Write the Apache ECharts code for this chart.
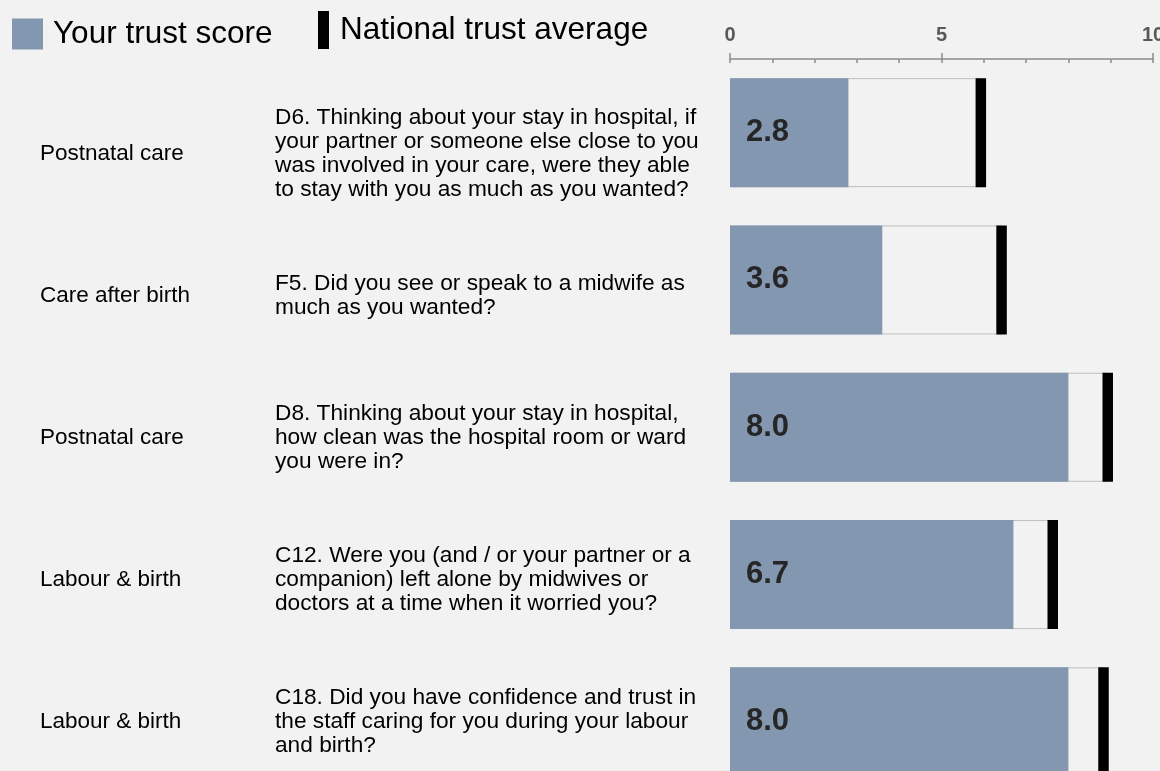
<!DOCTYPE html>
<html>
<head>
<meta charset="utf-8">
<script src="https://cdn.jsdelivr.net/npm/echarts@6/dist/echarts.min.js"></script>
<style>
  html, body { margin: 0; padding: 0; background: #f2f2f2; }
  #chart { width: 1160px; height: 771px; }
</style>
</head>
<body>
<div id="chart"></div>
<script>
// survey rows, top to bottom
const topics = ['Postnatal care', 'Care after birth', 'Postnatal care', 'Labour & birth', 'Labour & birth']
const questions = [
  'D6. Thinking about your stay in hospital, if\nyour partner or someone else close to you\nwas involved in your care, were they able\nto stay with you as much as you wanted?',
  'F5. Did you see or speak to a midwife as\nmuch as you wanted?',
  'D8. Thinking about your stay in hospital,\nhow clean was the hospital room or ward\nyou were in?',
  'C12. Were you (and / or your partner or a\ncompanion) left alone by midwives or\ndoctors at a time when it worried you?',
  'C18. Did you have confidence and trust in\nthe staff caring for you during your labour\nand birth?'
]
const trustScores = [2.8, 3.6, 8.0, 6.7, 8.0]
const nationalAverages = [5.93, 6.42, 8.93, 7.63, 8.83]
const axisTicks = [0, 5, 10]

const font = '"Liberation Sans", Arial, sans-serif'
const chart = echarts.init(document.getElementById('chart'))

const option = {
  backgroundColor: '#f2f2f2',
  animation: false,
  textStyle: { fontFamily: font },
  legend: [
    {
      data: ['Your trust score'],
      left: 12,
      top: 18,
      padding: 0,
      icon: 'rect',
      itemWidth: 31,
      itemHeight: 31,
      selectedMode: false,
      textStyle: { fontSize: 31.5, color: '#000', fontFamily: font, padding: [0, 0, 0, 5] }
    },
    {
      data: ['National trust average'],
      left: 318,
      top: 11,
      padding: 0,
      icon: 'rect',
      itemWidth: 11,
      itemHeight: 38,
      selectedMode: false,
      textStyle: { fontSize: 31.5, color: '#000', fontFamily: font, padding: [0, 0, 0, 6] }
    }
  ],
  grid: [
    { left: 730, right: 7, top: 59, bottom: -24.5, outerBoundsMode: 'none' },
    { left: 275, width: 10, top: 83, bottom: -22, outerBoundsMode: 'none' }
  ],
  xAxis: [
    {
      type: 'value',
      position: 'top',
      min: 0,
      max: 10,
      interval: 1,
      axisLine: { show: true, lineStyle: { color: '#8c8c8c', width: 1.5 } },
      axisTick: { show: true, inside: true, length: 4, lineStyle: { color: '#8c8c8c', width: 1.5 } },
      splitLine: { show: false },
      axisLabel: {
        margin: 14,
        fontSize: 20,
        fontWeight: 'bold',
        color: '#595959',
        formatter: v => (axisTicks.includes(v) ? String(v) : '')
      }
    },
    {
      type: 'value',
      position: 'top',
      min: 0,
      max: 10,
      interval: 5,
      axisLine: { show: false },
      axisTick: { show: true, length: 6, lineStyle: { color: '#8c8c8c', width: 1.5 } },
      splitLine: { show: false },
      axisLabel: { show: false }
    },
    { type: 'value', gridIndex: 1, min: 0, max: 1, show: false }
  ],
  yAxis: [
    { type: 'category', data: questions, inverse: true, show: false },
    {
      type: 'category',
      gridIndex: 1,
      position: 'left',
      data: questions,
      inverse: true,
      axisLine: { show: false },
      axisTick: { show: false },
      axisLabel: { align: 'left', margin: 0, fontSize: 22.7, lineHeight: 24, color: '#000' }
    },
    {
      type: 'category',
      gridIndex: 1,
      position: 'left',
      data: questions,
      inverse: true,
      offset: 235,
      axisLine: { show: false },
      axisTick: { show: false },
      axisLabel: {
        align: 'left',
        margin: 0,
        fontSize: 22.5,
        color: '#000',
        formatter: (v, i) => topics[i]
      }
    }
  ],
  series: [
    {
      name: 'avgBox',
      type: 'bar',
      barWidth: 109,
      silent: true,
      data: nationalAverages,
      itemStyle: { color: '#f2f2f2', borderColor: '#bfbfbf', borderWidth: 1 }
    },
    {
      name: 'Your trust score',
      type: 'bar',
      barWidth: 109,
      barGap: '-100%',
      data: trustScores,
      itemStyle: { color: '#8497b0' },
      label: {
        show: true,
        position: 'insideLeft',
        distance: 16,
        fontSize: 31,
        fontWeight: 'bold',
        color: '#262626',
        formatter: p => p.value.toFixed(1)
      }
    },
    {
      name: 'National trust average',
      type: 'scatter',
      symbol: 'rect',
      symbolSize: [10.5, 109],
      z: 5,
      data: nationalAverages.map((v, i) => [v, i]),
      itemStyle: { color: '#000', opacity: 1 }
    }
  ]
}

chart.setOption(option)
</script>
</body>
</html>
